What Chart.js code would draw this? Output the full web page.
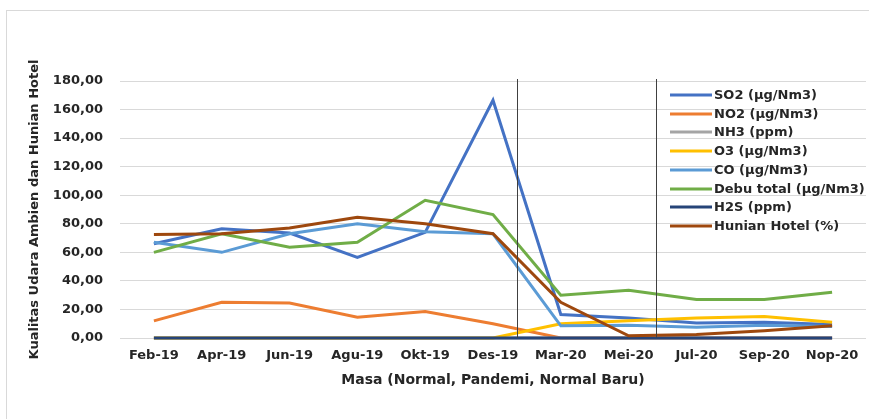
<!DOCTYPE html>
<html>
<head>
<meta charset="utf-8">
<script src="https://cdn.jsdelivr.net/npm/chart.js@4/dist/chart.umd.min.js"></script>
<style>
  html, body { margin: 0; padding: 0; background: #ffffff; }
  #wrap { position: relative; width: 869px; height: 419px; }
</style>
</head>
<body>
<div id="wrap"><canvas id="chart" width="869" height="419"></canvas></div>
<script>
// Periods: monthly samples Feb 2019 – Nov 2020
const months = ['Feb-19', 'Apr-19', 'Jun-19', 'Agu-19', 'Okt-19', 'Des-19', 'Mar-20', 'Mei-20', 'Jul-20', 'Sep-20', 'Nop-20'];

const so2    = [66, 76.5, 73.5, 56.5, 74, 166.5, 16.5, 14, 10.5, 11, 9.5];
const no2    = [12, 25, 24.5, 14.5, 18.5, 10, 0, 0, 0, 0, 0];
const nh3    = [0, 0, 0, 0, 0, 0, 0, 0, 0, 0, 0];
const o3     = [0, 0, 0, 0, 0, 0, 10, 12, 14, 15, 11];
const co     = [67, 60, 73, 80, 74.5, 73, 8.5, 9, 7.5, 9, 8];
const debu   = [60, 73, 63.5, 67, 96.5, 86.5, 30, 33.5, 27, 27, 32];
const h2s    = [0, 0, 0, 0, 0, 0, 0, 0, 0, 0, 0];
const hunian = [72.5, 73, 77, 84.5, 80, 73, 25, 1.5, 2.5, 5, 8.5];

const seriesNames = ['SO2 (µg/Nm3)', 'NO2 (µg/Nm3)', 'NH3 (ppm)', 'O3 (µg/Nm3)', 'CO (µg/Nm3)', 'Debu total (µg/Nm3)', 'H2S (ppm)', 'Hunian Hotel (%)'];
const seriesValues = [so2, no2, nh3, o3, co, debu, h2s, hunian];
const seriesColors = ['#4472C4', '#ED7D31', '#A5A5A5', '#FFC000', '#5B9BD5', '#70AD47', '#264478', '#9E480E'];

// Boundaries between Normal | Pandemi | Normal Baru, as positions on the category axis
const periodBreaks = [5.36, 7.41];

const FONT = "'DejaVu Sans', sans-serif";
const TEXT = '#262626';

const datasets = seriesNames.map((name, i) => ({
  label: name,
  data: seriesValues[i],
  borderColor: seriesColors[i],
  backgroundColor: seriesColors[i],
  borderWidth: 3,
  pointRadius: 0,
  tension: 0,
  fill: false,
  clip: false,
  // later series are painted above earlier ones
  order: seriesNames.length - i
}));

const framePlugin = {
  id: 'frame',
  beforeDraw(chart) {
    const ctx = chart.ctx;
    ctx.save();
    ctx.fillStyle = '#ffffff';
    ctx.fillRect(0, 0, chart.width, chart.height);
    ctx.strokeStyle = '#d9d9d9';
    ctx.lineWidth = 1;
    ctx.strokeRect(6.5, 10.5, chart.width + 20, chart.height + 20);
    ctx.restore();
  }
};

const periodLinesPlugin = {
  id: 'periodLines',
  afterDatasetsDraw(chart) {
    const ctx = chart.ctx;
    const x = chart.scales.x;
    const area = chart.chartArea;
    ctx.save();
    ctx.strokeStyle = '#404040';
    ctx.lineWidth = 1;
    periodBreaks.forEach(p => {
      const px = Math.round(x.getPixelForValue(p)) + 0.5;
      ctx.beginPath();
      ctx.moveTo(px, area.top - 2);
      ctx.lineTo(px, area.bottom);
      ctx.stroke();
    });
    ctx.restore();
  }
};

const sideLegendPlugin = {
  id: 'sideLegend',
  afterDraw(chart) {
    const ctx = chart.ctx;
    const x0 = 670, lineLen = 42, gap = 2, y0 = 95, step = 18.7;
    ctx.save();
    ctx.font = 'bold 13px ' + FONT;
    ctx.textBaseline = 'middle';
    ctx.textAlign = 'left';
    chart.data.datasets.forEach((ds, i) => {
      const y = Math.round(y0 + i * step);
      ctx.strokeStyle = ds.borderColor;
      ctx.lineWidth = 3;
      ctx.beginPath();
      ctx.moveTo(x0, y);
      ctx.lineTo(x0 + lineLen, y);
      ctx.stroke();
      ctx.fillStyle = TEXT;
      ctx.fillText(ds.label, x0 + lineLen + gap, y + 1);
    });
    ctx.restore();
  }
};

new Chart(document.getElementById('chart'), {
  type: 'line',
  data: { labels: months, datasets },
  plugins: [framePlugin, periodLinesPlugin, sideLegendPlugin],
  options: {
    responsive: false,
    animation: false,
    events: [],
    layout: { padding: { top: 81, right: 3, left: 0, bottom: 0 } },
    plugins: {
      legend: { display: false },
      tooltip: { enabled: false }
    },
    scales: {
      x: {
        type: 'category',
        offset: true,
        grid: { display: false, drawTicks: false },
        border: { display: false },
        ticks: {
          color: TEXT,
          padding: 10,
          maxRotation: 0,
          autoSkip: false,
          font: { family: FONT, size: 13, weight: 'bold' }
        },
        title: {
          display: true,
          text: 'Masa (Normal, Pandemi, Normal Baru)',
          color: TEXT,
          font: { family: FONT, size: 14, weight: 'bold' },
          padding: { top: 4, bottom: 30 }
        },
        afterFit(scale) { scale.height = 81; }
      },
      y: {
        min: 0,
        max: 180,
        grid: { color: '#d9d9d9', lineWidth: 1, drawTicks: false },
        border: { display: false },
        ticks: {
          stepSize: 20,
          color: TEXT,
          padding: 17,
          font: { family: FONT, size: 13, weight: 'bold' },
          callback: v => v.toFixed(2).replace('.', ',')
        },
        title: {
          display: true,
          text: 'Kualitas Udara Ambien dan Hunian Hotel',
          color: TEXT,
          font: { family: FONT, size: 13, weight: 'bold' },
          padding: { top: 27, bottom: 4 }
        },
        afterFit(scale) { scale.width = 120; }
      }
    }
  }
});
</script>
</body>
</html>
